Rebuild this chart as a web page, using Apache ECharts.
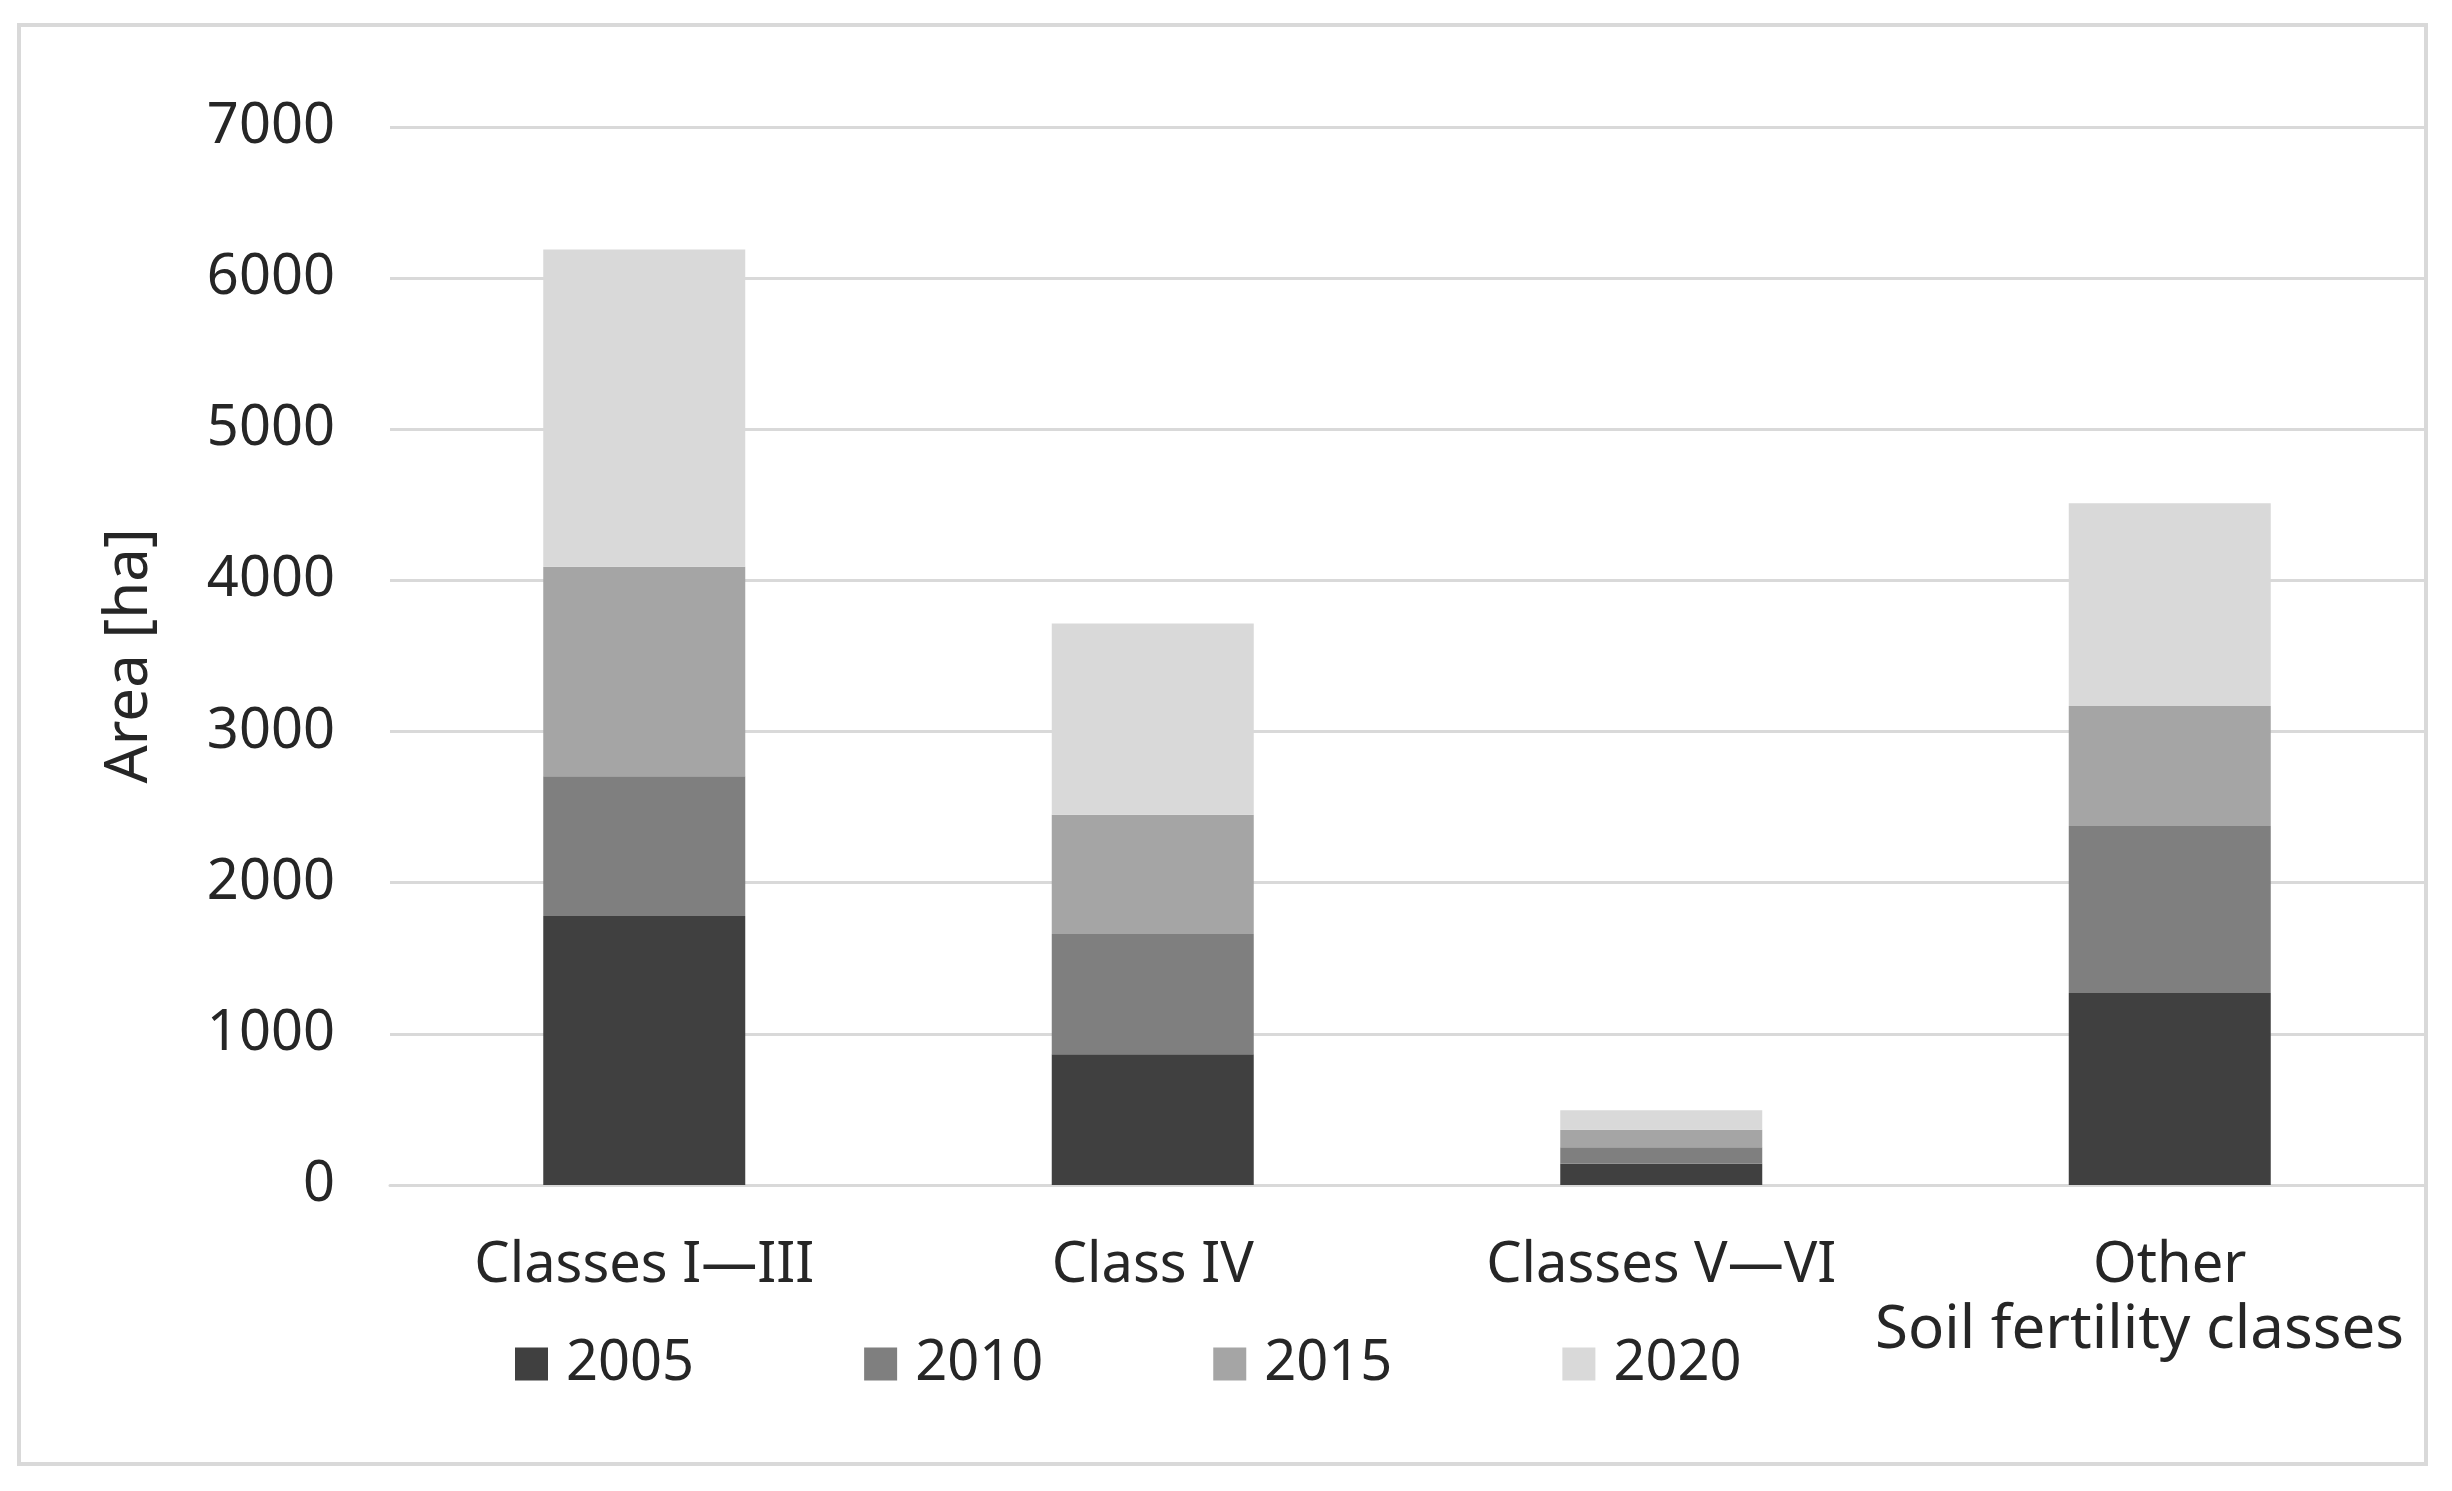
<!DOCTYPE html>
<html>
<head>
<meta charset="utf-8">
<script src="https://cdn.jsdelivr.net/npm/echarts@6/dist/echarts.min.js"></script>
<style>
html,body{margin:0;padding:0;background:#fff;}
#chart{width:2452px;height:1491px;}
</style>
</head>
<body>
<div id="chart"></div>
<script>
const categories = ['Classes I\u2014III', 'Class IV', 'Classes V\u2014VI', 'Other'];
const years = ['2005', '2010', '2015', '2020'];
const values2005 = [1780, 865, 140, 1270];
const values2010 = [925, 795, 110, 1105];
const values2015 = [1385, 790, 115, 795];
const values2020 = [2100, 1265, 130, 1340];
const yTicks = { min: 0, max: 7000, interval: 1000 };
const colors = ['#404040', '#7f7f7f', '#a5a5a5', '#d9d9d9'];

const seriesValues = [values2005, values2010, values2015, values2020];
const FONT = 'Noto Sans';
const TXT = '#262626';

const chart = echarts.init(document.getElementById('chart'));
chart.setOption({
  animation: false,
  backgroundColor: '#ffffff',
  textStyle: { fontFamily: FONT },
  graphic: [{
    type: 'rect',
    shape: { x: 19, y: 25, width: 2407, height: 1439 },
    style: { fill: 'none', stroke: '#d9d9d9', lineWidth: 4 },
    silent: true
  }],
  title: {
    text: 'Soil fertility classes',
    right: 2452 - 2404,
    top: 1297,
    padding: 0,
    textStyle: { fontFamily: FONT, fontSize: 60, fontWeight: 'normal', color: TXT, lineHeight: 68 }
  },
  grid: { left: 390, right: 28, top: 127, bottom: 306, containLabel: false, outerBoundsMode: 'none' },
  legend: {
    data: years,
    left: 510,
    top: 1331,
    itemWidth: 33,
    itemHeight: 33,
    itemGap: 170,
    icon: 'rect',
    textStyle: { fontFamily: FONT, fontSize: 56, color: TXT, lineHeight: 56, padding: [0, 0, 0, 13] }
  },
  xAxis: {
    type: 'category',
    data: categories,
    axisLine: { lineStyle: { color: '#d9d9d9', width: 3 } },
    axisTick: { show: false },
    axisLabel: { fontFamily: FONT, fontSize: 56, color: TXT, margin: 53, interval: 0 }
  },
  yAxis: {
    type: 'value',
    min: yTicks.min,
    max: yTicks.max,
    interval: yTicks.interval,
    name: 'Area [ha]',
    nameLocation: 'middle',
    nameGap: 230,
    nameTextStyle: { fontFamily: FONT, fontSize: 60, color: TXT },
    axisLine: { show: false },
    axisTick: { show: false },
    axisLabel: { fontFamily: FONT, fontSize: 56, color: TXT, margin: 55, formatter: v => String(v) },
    splitLine: { lineStyle: { color: '#d9d9d9', width: 3 } }
  },
  series: years.map((y, i) => ({
    name: y,
    type: 'bar',
    stack: 'total',
    barWidth: 202,
    data: seriesValues[i],
    itemStyle: { color: colors[i] }
  }))
});
</script>
</body>
</html>
